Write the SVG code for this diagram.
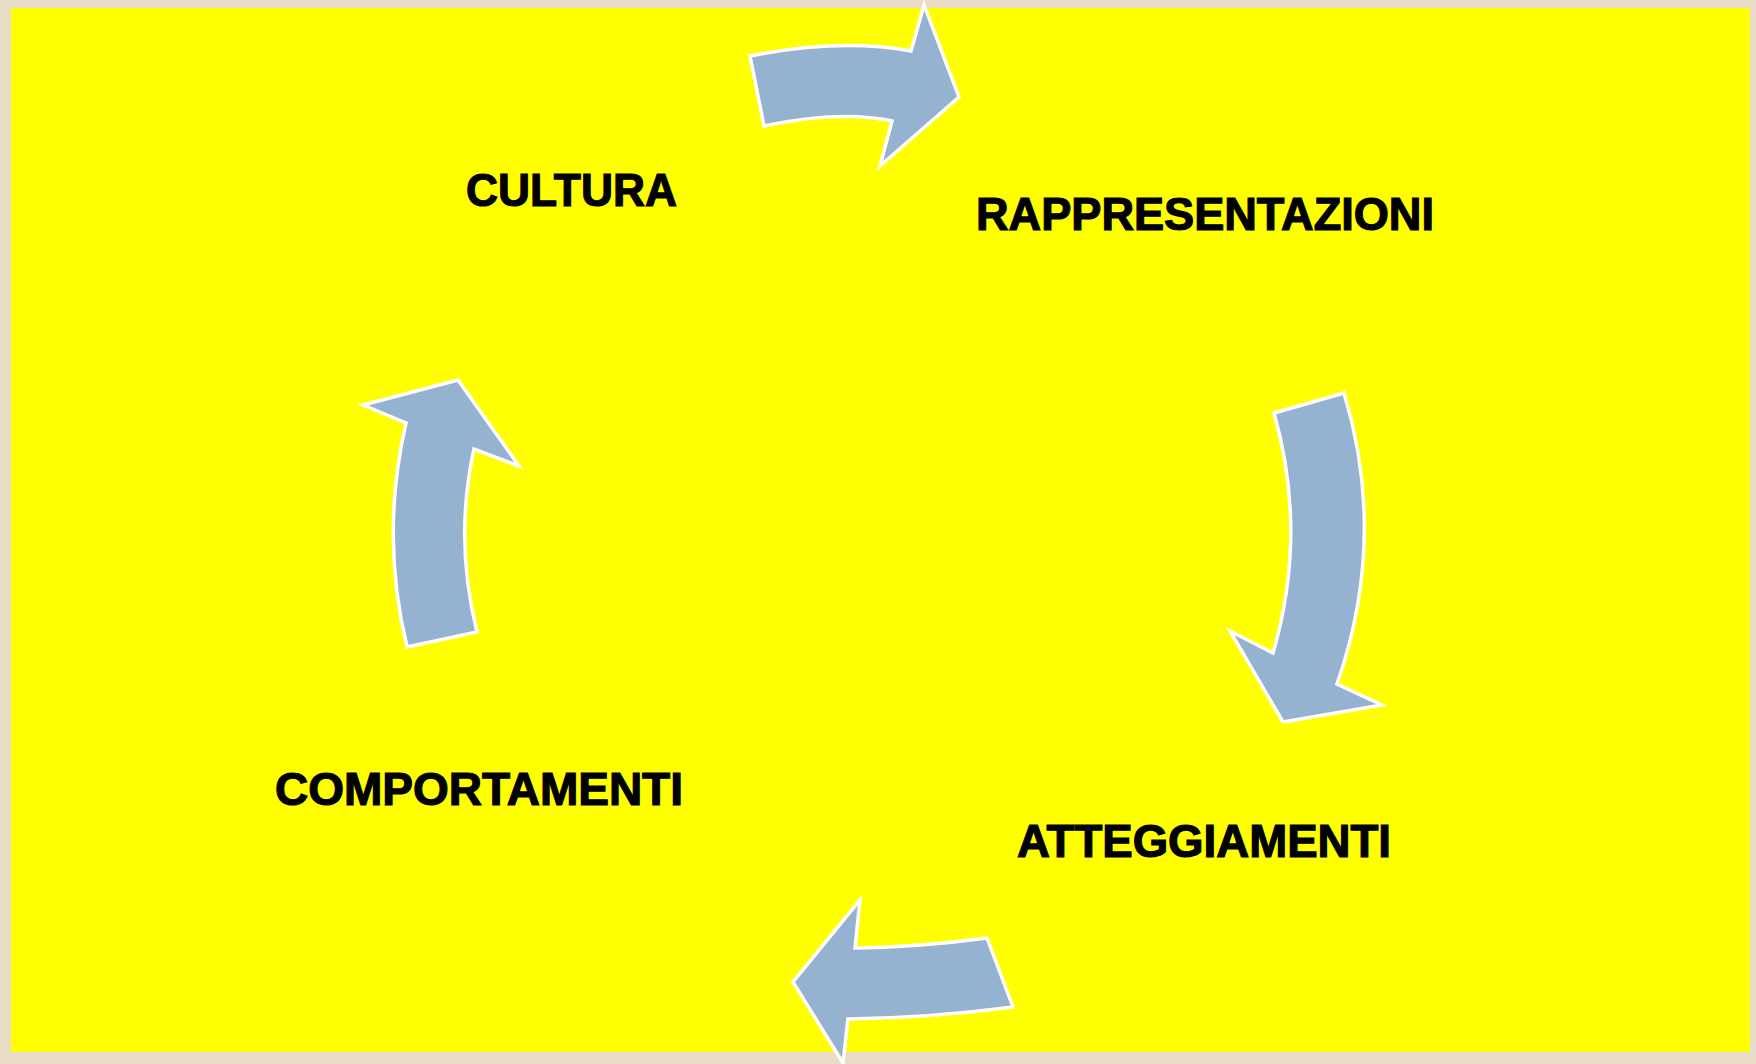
<svg xmlns="http://www.w3.org/2000/svg" width="1756" height="1064" viewBox="0 0 1756 1064">
<style>
.arrow{fill:#95B3D1;stroke:#FFFFFF;stroke-width:3.5;stroke-linejoin:miter}
.lbl{font-family:"Liberation Sans",Arial,sans-serif;font-weight:700;font-size:46px;fill:#000000;stroke:#000000;stroke-width:1.2}
</style>
<rect x="0" y="0" width="1756" height="1064" fill="#EADDC8"/>
<rect x="11" y="8" width="1739" height="1044" fill="#FFFF00"/>
<g id="connectors">
<path class="arrow" d="M750,56 Q840,38 911,51 L924,5 L959,97 L880,166 L892,121 Q840,110 764,126 Z"/>
<path class="arrow" d="M1274,413 L1344,393 Q1388,538 1337,684 L1382,705 L1283,722 L1230,631 L1273,653 Q1308,533 1274,413 Z"/>
<path class="arrow" d="M987,938 L1013,1007 Q930,1018 848,1019 L843,1063 L793,982 L860,900 L855,948 Q921,947 987,938 Z"/>
<path class="arrow" d="M407,647 L477,632 Q454,540 474,449 L519,466 L458,380 L363,405 L406,423 Q380,535 407,647 Z"/>
</g>
<g id="node-cultura"><text class="lbl" x="466" y="206" textLength="211" lengthAdjust="spacingAndGlyphs">CULTURA</text></g>
<g id="node-rappresentazioni"><text class="lbl" x="976" y="230" textLength="458" lengthAdjust="spacingAndGlyphs">RAPPRESENTAZIONI</text></g>
<g id="node-atteggiamenti"><text class="lbl" x="1017" y="857" textLength="374" lengthAdjust="spacingAndGlyphs">ATTEGGIAMENTI</text></g>
<g id="node-comportamenti"><text class="lbl" x="275" y="805" textLength="408" lengthAdjust="spacingAndGlyphs">COMPORTAMENTI</text></g>
</svg>
